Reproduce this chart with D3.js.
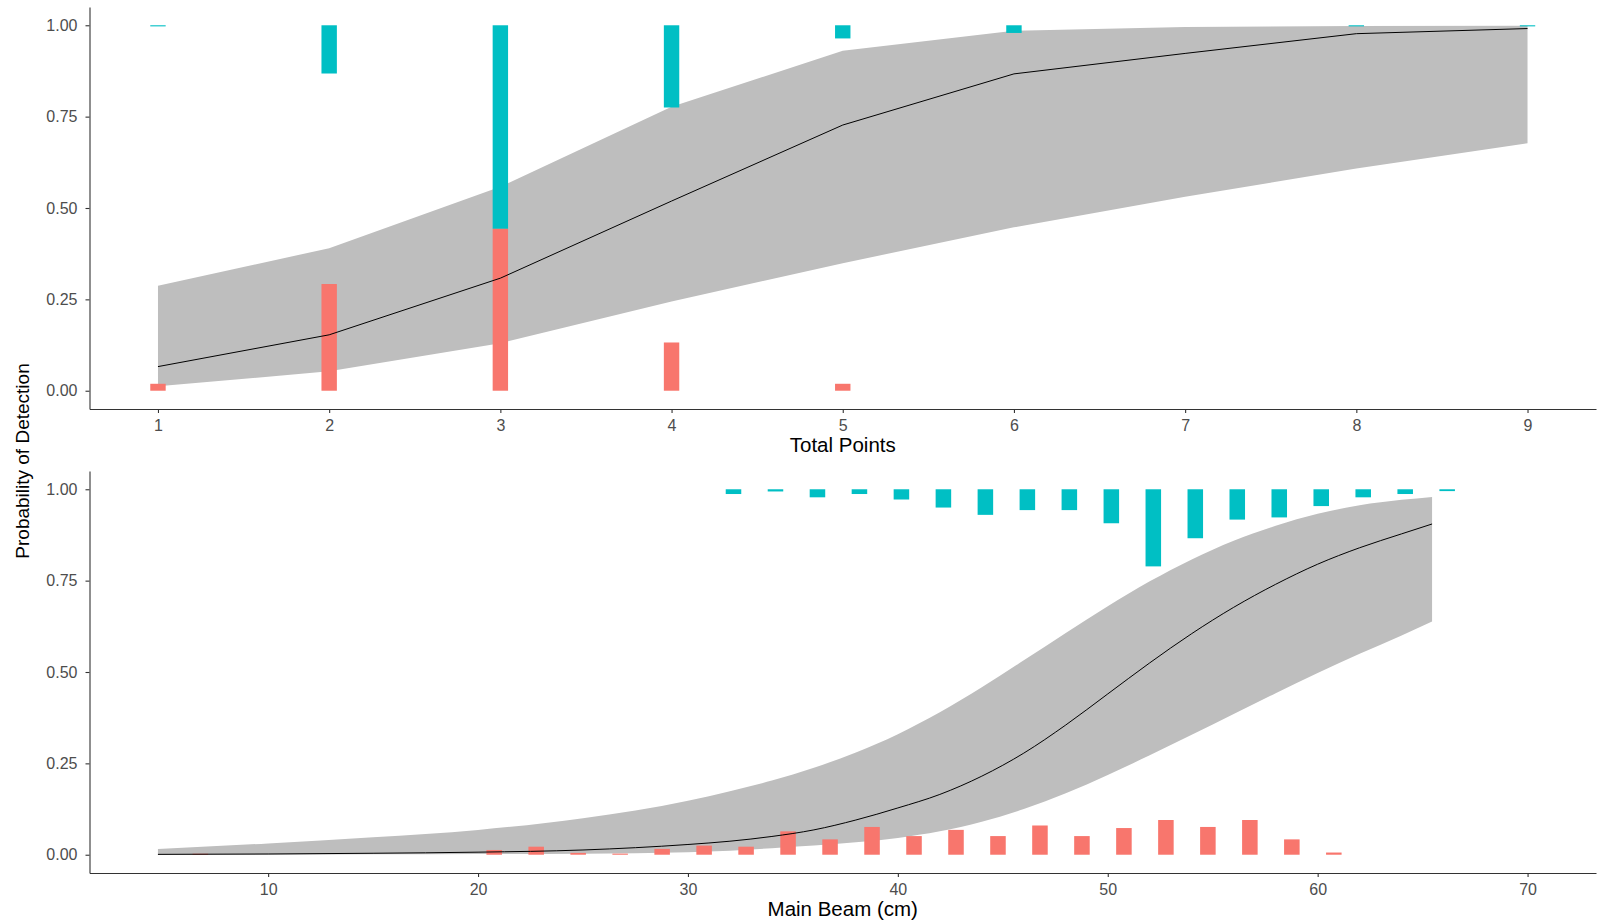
<!DOCTYPE html>
<html>

<head>
    <meta charset="utf-8">
    <script src="https://d3js.org/d3.v7.min.js"></script>
    <style>
        body {
            margin: 0;
            background: #fff;
        }

        .axis path,
        .axis line {
            stroke: #333;
            stroke-width: 1.1px;
        }

        .axis text {
            fill: #4D4D4D;
            font-family: "Liberation Sans", Arial, sans-serif;
            font-size: 16px;
        }

        .title {
            fill: #000;
            font-family: "Liberation Sans", Arial, sans-serif;
            font-size: 20.5px;
        }
    </style>
</head>

<body>
    <svg id="chart" width="1597" height="920"></svg>
    <script>
        // ---- top panel: Total Points ----
        var tpX = [1, 2, 3, 4, 5, 6, 7, 8, 9];
        var tpFit = [0.066, 0.153, 0.308, 0.519, 0.727, 0.867, 0.923, 0.977, 0.991];
        var tpLow = [0.012, 0.053, 0.130, 0.244, 0.349, 0.447, 0.531, 0.608, 0.677];
        var tpHigh = [0.287, 0.390, 0.558, 0.777, 0.930, 0.985, 0.995, 0.998, 0.999];
        // histogram of detected (hangs from 1) and missed (stands on 0)
        var tpDetected = [0.003, 0.132, 0.557, 0.225, 0.036, 0.021, 0, 0.003, 0.003];
        var tpMissed = [0.019, 0.292, 0.443, 0.132, 0.019, 0, 0, 0, 0];
        var tpTicks = [1, 2, 3, 4, 5, 6, 7, 8, 9];

        // ---- bottom panel: Main Beam (cm) ----
        var mbX = [4.75, 10, 15, 20, 25, 30, 32, 34, 36, 38, 40, 42, 44, 46, 48, 50, 52, 54, 56, 58, 60, 62, 64, 65.45];
        var mbFit = [0.001, 0.002, 0.004, 0.007, 0.013, 0.028, 0.037, 0.050, 0.068, 0.095, 0.128, 0.165, 0.215, 0.278, 0.355, 0.440, 0.525, 0.605, 0.677, 0.740, 0.795, 0.840, 0.878, 0.905];
        var mbLow = [0.000, 0.000, 0.001, 0.002, 0.003, 0.007, 0.011, 0.018, 0.025, 0.034, 0.046, 0.064, 0.090, 0.125, 0.168, 0.218, 0.272, 0.328, 0.385, 0.442, 0.497, 0.550, 0.600, 0.638];
        var mbHigh = [0.016, 0.031, 0.048, 0.068, 0.100, 0.148, 0.174, 0.203, 0.238, 0.280, 0.330, 0.390, 0.458, 0.532, 0.607, 0.680, 0.748, 0.808, 0.859, 0.900, 0.933, 0.956, 0.971, 0.979];
        var mbDetX = [32.17, 34.17, 36.17, 38.17, 40.17, 42.17, 44.17, 46.17, 48.17, 50.17, 52.17, 54.17, 56.17, 58.17, 60.17, 62.17, 64.17, 66.17];
        var mbDetected = [0.013, 0.006, 0.022, 0.013, 0.028, 0.050, 0.070, 0.057, 0.057, 0.093, 0.211, 0.134, 0.083, 0.077, 0.046, 0.022, 0.013, 0.005];
        var mbMissX = [6.77, 20.77, 22.77, 24.77, 26.77, 28.77, 30.77, 32.77, 34.77, 36.77, 38.77, 40.77, 42.77, 44.77, 46.77, 48.77, 50.77, 52.77, 54.77, 56.77, 58.77, 60.77];
        var mbMissed = [0.002, 0.013, 0.022, 0.005, 0.003, 0.016, 0.025, 0.022, 0.064, 0.042, 0.076, 0.051, 0.068, 0.051, 0.080, 0.051, 0.073, 0.095, 0.076, 0.095, 0.042, 0.006];
        var mbTicks = [10, 20, 30, 40, 50, 60, 70];

        var yTicks = [0, 0.25, 0.5, 0.75, 1];

        var teal = "#00BFC4", salmon = "#F8766D", band = "#BEBEBE";
        var left = 89.5, right = 1596;

        var svg = d3.select("#chart");

        function drawPanel(p) {
            var x = d3.scaleLinear().domain(p.xDomain).range([left, right]);
            var y = d3.scaleLinear().domain([-0.05, 1.05]).range([p.bottom, p.top]);
            var g = svg.append("g");

            var rows = p.xs.map((v, i) => ({ x: v, fit: p.fit[i], lo: p.low[i], hi: p.high[i] }));

            // confidence band
            g.append("path")
                .datum(rows)
                .attr("fill", band)
                .attr("d", d3.area()
                    .curve(p.curve)
                    .x(d => x(d.x))
                    .y0(d => y(d.lo))
                    .y1(d => y(d.hi)));

            // detected bars hang down from 1
            g.selectAll(".det")
                .data(p.detX.map((v, i) => [v, p.det[i]]).filter(d => d[1] > 0))
                .enter().append("rect")
                .attr("fill", teal)
                .attr("x", d => x(d[0] - p.barW / 2))
                .attr("width", d => x(d[0] + p.barW / 2) - x(d[0] - p.barW / 2))
                .attr("y", y(1))
                .attr("height", d => Math.max(y(1 - d[1]) - y(1), 1));

            // missed bars stand on 0
            g.selectAll(".miss")
                .data(p.missX.map((v, i) => [v, p.miss[i]]).filter(d => d[1] > 0))
                .enter().append("rect")
                .attr("fill", salmon)
                .attr("x", d => x(d[0] - p.barW / 2))
                .attr("width", d => x(d[0] + p.barW / 2) - x(d[0] - p.barW / 2))
                .attr("y", d => Math.min(y(d[1]), y(0) - 1))
                .attr("height", d => Math.max(y(0) - y(d[1]), 1));

            // fitted line
            g.append("path")
                .datum(rows)
                .attr("fill", "none")
                .attr("stroke", "#000")
                .attr("stroke-width", 1)
                .attr("d", d3.line()
                    .curve(p.curve)
                    .x(d => x(d.x))
                    .y(d => y(d.fit)));

            // axes
            g.append("g")
                .attr("class", "axis")
                .attr("transform", "translate(0," + p.bottom + ")")
                .call(d3.axisBottom(x).tickValues(p.ticks).tickSize(4).tickSizeOuter(0).tickPadding(6.5)
                    .tickFormat(d3.format("d")));
            g.append("g")
                .attr("class", "axis")
                .attr("transform", "translate(" + left + ",0)")
                .call(d3.axisLeft(y).tickValues(yTicks).tickSize(4).tickSizeOuter(0).tickPadding(8)
                    .tickFormat(d3.format(".2f")));

            g.append("text")
                .attr("class", "title")
                .attr("x", (left + right) / 2)
                .attr("y", p.bottom + 42.5)
                .attr("text-anchor", "middle")
                .text(p.title);
        }

        drawPanel({
            top: 7, bottom: 409, xDomain: [0.6, 9.4], ticks: tpTicks, title: "Total Points",
            xs: tpX, fit: tpFit, low: tpLow, high: tpHigh, curve: d3.curveLinear,
            detX: tpX, det: tpDetected, missX: tpX, miss: tpMissed, barW: 0.09
        });

        drawPanel({
            top: 471, bottom: 873, xDomain: [1.49, 73.26], ticks: mbTicks, title: "Main Beam (cm)",
            xs: mbX, fit: mbFit, low: mbLow, high: mbHigh, curve: d3.curveMonotoneX,
            detX: mbDetX, det: mbDetected, missX: mbMissX, miss: mbMissed, barW: 0.74
        });

        // shared y title
        svg.append("text")
            .attr("class", "title")
            .style("font-size", "19px")
            .attr("transform", "translate(29,461) rotate(-90)")
            .attr("text-anchor", "middle")
            .text("Probability of Detection");
    </script>
</body>

</html>
